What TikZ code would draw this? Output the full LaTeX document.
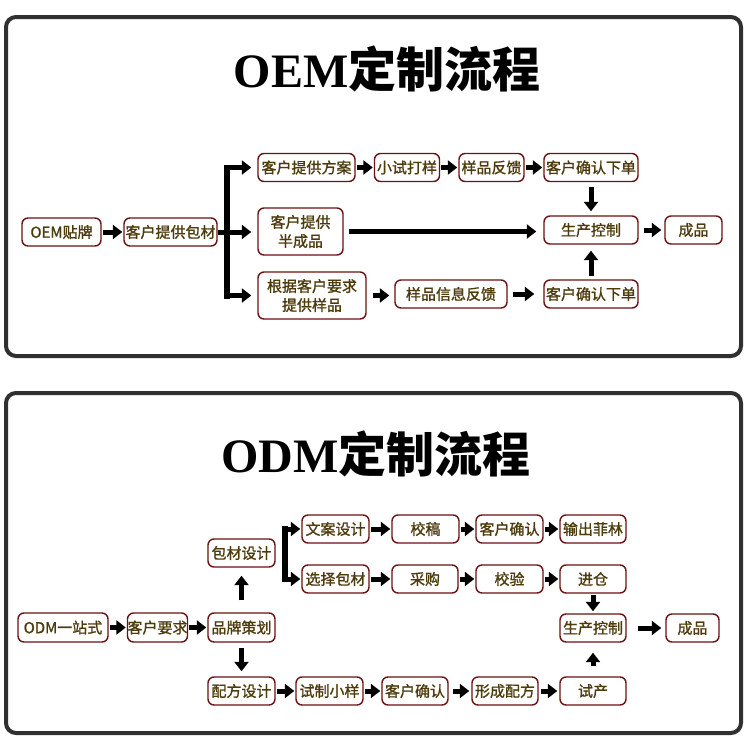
\documentclass[tikz,border=0pt]{standalone}
\usepackage{fontspec}
\setmainfont{Noto Sans CJK SC}
\newfontfamily\boxfont{Noto Sans CJK SC}[FakeBold=1.2]
\newfontfamily\titlelatin{Liberation Serif}
\newfontfamily\titlecjk{Noto Sans CJK SC}
\usetikzlibrary{arrows.meta}
\definecolor{boxline}{HTML}{6B1212}
\definecolor{boxtext}{HTML}{4E3B0C}
\definecolor{panelline}{HTML}{303030}
\tikzset{
  box/.style={draw=boxline, line width=1.4pt, rounded corners=6pt, fill=white,
    text=boxtext, font=\boxfont\fontsize{15}{19}\selectfont, inner sep=0pt,
    minimum height=28pt, align=center},
  tallbox/.style={box, minimum height=47pt},
  arr/.style={line width=5pt, -{Triangle[length=9.5pt,width=14pt]},
    shorten <=2pt, shorten >=2pt},
  bar/.style={line width=6pt, line cap=rect},
  panel/.style={draw=panelline, line width=4pt, rounded corners=10pt},
  title/.style={inner sep=0pt, text=black}
}
\begin{document}
\begin{tikzpicture}[x=1pt,y=-1pt]
\useasboundingbox (0,0) rectangle (750,750);
\fill[white] (0,0) rectangle (750,750);
% panels
\draw[panel] (6,17) rectangle (741,356);
\draw[panel] (6,393) rectangle (741,733);
% titles
\node[title] (t1) at (387,69) {\fontsize{48}{50}\selectfont\titlelatin\bfseries OEM\titlecjk\bfseries 定制流程};
\node[title] (t2) at (376,454) {\fontsize{48}{50}\selectfont\titlelatin\bfseries ODM\titlecjk\bfseries 定制流程};

% ---------- OEM ----------
\node[box, minimum width=79pt] (n1) at (61.5,232) {OEM贴牌};
\node[box, minimum width=93pt] (n2) at (170.5,232) {客户提供包材};
\node[box, minimum width=97pt] (n3) at (306.5,167.5) {客户提供方案};
\node[box, minimum width=65pt] (n4) at (407,167.5) {小试打样};
\node[box, minimum width=65pt] (n5) at (491.5,167.5) {样品反馈};
\node[box, minimum width=94pt] (n6) at (591,167.5) {客户确认下单};
\node[tallbox, minimum width=85pt] (n7) at (300.5,231.5) {客户提供\\半成品};
\node[tallbox, minimum width=108pt] (n8) at (312,295.5) {根据客户要求\\提供样品};
\node[box, minimum width=94pt] (n9) at (591,230) {生产控制};
\node[box, minimum width=57pt] (n10) at (693.5,230) {成品};
\node[box, minimum width=112pt] (n11) at (451,294) {样品信息反馈};
\node[box, minimum width=94pt] (n12) at (591,294) {客户确认下单};

\coordinate (a1) at (227,167.5);
\coordinate (a3) at (227,295.5);
\draw[bar] (a1) -- (a3);
\draw[arr, shorten <=0pt, shorten >=6pt] (a1) -- (n3.west);
\draw[arr, shorten <=0pt, shorten >=6pt] (a3) -- (n8.west);
\draw[arr, shorten <=0pt, shorten >=6pt] (n2.east) -- (n2.east -| n7.west);

\draw[arr, shorten <=1pt, shorten >=1pt] (n1) -- (n2);
\draw[arr, shorten <=1pt, shorten >=1pt] (n3) -- (n4);
\draw[arr, shorten <=1pt, shorten >=1pt] (n4) -- (n5);
\draw[arr, shorten <=1pt, shorten >=1pt] (n5) -- (n6);
\draw[arr, shorten <=5pt, shorten >=7pt] (n7.east) -- (n7.east -| n9.west);
\draw[arr, shorten <=5pt, shorten >=3pt] (n9) -- (n10);
\draw[arr, shorten <=5pt, shorten >=4pt] (n6) -- (n9);
\draw[arr, shorten <=3pt, shorten >=6pt] (n12) -- (n9);
\draw[arr, shorten <=6pt, shorten >=5pt] (n8.east) -- (n8.east -| n11.west);
\draw[arr, shorten <=5pt, shorten >=9pt] (n11) -- (n12);

% ---------- ODM ----------
\node[box, minimum width=90pt, minimum height=29pt] (m1) at (63,627.5) {ODM一站式};
\node[box, minimum width=59pt, minimum height=29pt] (m2) at (157.5,627.5) {客户要求};
\node[box, minimum width=67pt, minimum height=29pt] (m3) at (241.5,627.5) {品牌策划};
\node[box, minimum width=67pt] (m4) at (241.5,553) {包材设计};
\node[box, minimum width=67pt] (m5) at (241.5,691) {配方设计};
\node[box, minimum width=67pt] (m6) at (329.5,691) {试制小样};
\node[box, minimum width=66pt] (m7) at (415,691) {客户确认};
\node[box, minimum width=66pt] (m8) at (505,691) {形成配方};
\node[box, minimum width=66pt] (m9) at (593,691) {试产};
\node[box, minimum width=67pt] (m10) at (335.5,529) {文案设计};
\node[box, minimum width=67pt] (m11) at (425.5,529) {校稿};
\node[box, minimum width=67pt] (m12) at (509.5,529) {客户确认};
\node[box, minimum width=66pt] (m13) at (593,529) {输出菲林};
\node[box, minimum width=67pt] (m14) at (335.5,579) {选择包材};
\node[box, minimum width=66pt] (m15) at (425,579) {采购};
\node[box, minimum width=67pt] (m16) at (509.5,579) {校验};
\node[box, minimum width=66pt] (m17) at (593,579) {进仓};
\node[box, minimum width=66pt] (m18) at (593,628) {生产控制};
\node[box, minimum width=53pt] (m19) at (692.5,628) {成品};

\coordinate (b1) at (284.5,529);
\coordinate (b2) at (284.5,579);
\draw[bar] (b1) -- (b2);
\draw[arr, shorten <=0pt, shorten >=1pt] (b1) -- (m10.west);
\draw[arr, shorten <=0pt, shorten >=1pt] (b2) -- (m14.west);

\draw[arr, shorten <=1pt, shorten >=1pt] (m1) -- (m2);
\draw[arr, shorten <=1pt, shorten >=1pt] (m2) -- (m3);
\draw[arr, shorten <=12pt, shorten >=8pt] (m3) -- (m4);
\draw[arr, shorten <=5pt, shorten >=5pt] (m3) -- (m5);
\draw[arr, shorten <=1pt, shorten >=1pt] (m5) -- (m6);
\draw[arr, shorten <=1pt, shorten >=1pt] (m6) -- (m7);
\draw[arr, shorten <=4pt, shorten >=2pt] (m7) -- (m8);
\draw[arr, shorten <=2pt, shorten >=2pt] (m8) -- (m9);
\draw[arr, shorten <=1pt, shorten >=1pt] (m10) -- (m11);
\draw[arr, shorten <=1pt, shorten >=1pt] (m11) -- (m12);
\draw[arr, shorten <=1pt, shorten >=1pt] (m12) -- (m13);
\draw[arr, shorten <=1pt, shorten >=1pt] (m14) -- (m15);
\draw[arr, shorten <=1pt, shorten >=1pt] (m15) -- (m16);
\draw[arr, shorten <=1pt, shorten >=1pt] (m16) -- (m17);
\draw[arr, shorten <=1pt, shorten >=2pt] (m17) -- (m18);
\draw[arr, shorten <=10pt, shorten >=10pt] (m9) -- (m18);
\draw[arr, shorten <=11pt, shorten >=4pt] (m18) -- (m19);
\end{tikzpicture}
\end{document}
